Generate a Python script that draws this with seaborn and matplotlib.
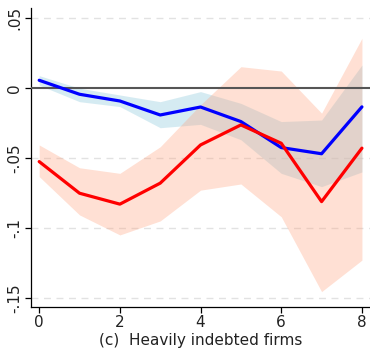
import numpy as np
import pandas as pd
import matplotlib
matplotlib.use("Agg")
import matplotlib.pyplot as plt
import seaborn as sns

# horizons
horizon = [0, 1, 2, 3, 4, 5, 6, 7, 8]

# blue series and its band
blue_coef = [0.0055, -0.0045, -0.0093, -0.0193, -0.0136, -0.024, -0.0426, -0.047, -0.0135]
blue_lo = [0.002, -0.0098, -0.0133, -0.0284, -0.026, -0.037, -0.061, -0.0705, -0.060]
blue_hi = [0.0088, -0.0002, -0.005, -0.0098, -0.0026, -0.011, -0.024, -0.0229, 0.0164]

# red series and its band
red_coef = [-0.0526, -0.0752, -0.083, -0.068, -0.0407, -0.0264, -0.0395, -0.0812, -0.043]
red_lo = [-0.0633, -0.0907, -0.105, -0.095, -0.073, -0.0686, -0.092, -0.1455, -0.123]
red_hi = [-0.0407, -0.057, -0.061, -0.042, -0.012, 0.0152, 0.0121, -0.018, 0.0355]

ytick_vals = [0.05, 0, -0.05, -0.1, -0.15]
ytick_labels = [".05", "0", "-.05", "-.1", "-.15"]
xtick_vals = [0, 2, 4, 6, 8]

df = pd.DataFrame({"h": horizon, "blue": blue_coef, "red": red_coef})

sns.set_style("white")
plt.rcParams["font.family"] = ["DejaVu Sans"]

fig = plt.figure(figsize=(3.7, 3.5), dpi=100)
ax = fig.add_axes([0.083, 0.124, 0.917, 0.853])

# gridlines
for v in ytick_vals:
    if v != 0:
        ax.axhline(v, color="#e2e2e2", linestyle=(0, (5, 4)), linewidth=1, zorder=0)

ax.fill_between(horizon, blue_lo, blue_hi, color="#add8e6", alpha=0.5, linewidth=0, zorder=1)
ax.fill_between(horizon, red_lo, red_hi, color="#ffa07a", alpha=0.32, linewidth=0, zorder=2)

ax.axhline(0, color="#555555", linewidth=1.5, zorder=3)

sns.lineplot(data=df, x="h", y="blue", color="#0000ff", linewidth=2.3, ax=ax, zorder=4)
sns.lineplot(data=df, x="h", y="red", color="#ff0000", linewidth=2.3, ax=ax, zorder=5)

ax.set_xlim(-0.21, 8.2)
ax.set_ylim(-0.1562, 0.0571)
ax.set_xticks(xtick_vals)
ax.set_yticks(ytick_vals)
ax.set_yticklabels(ytick_labels, rotation=90, va="center")
ax.tick_params(axis="both", direction="out", length=4, width=0.9, color="black",
               labelsize=11, labelcolor="#222222", left=True, bottom=True, pad=2)

for side in ["top", "right"]:
    ax.spines[side].set_visible(False)
for side in ["left", "bottom"]:
    ax.spines[side].set_color("black")
    ax.spines[side].set_linewidth(0.9)

ax.set_xlabel("(c)  Heavily indebted firms", fontsize=11, color="#222222", labelpad=2)
ax.set_ylabel("")

fig.savefig("out.png", dpi=100)
